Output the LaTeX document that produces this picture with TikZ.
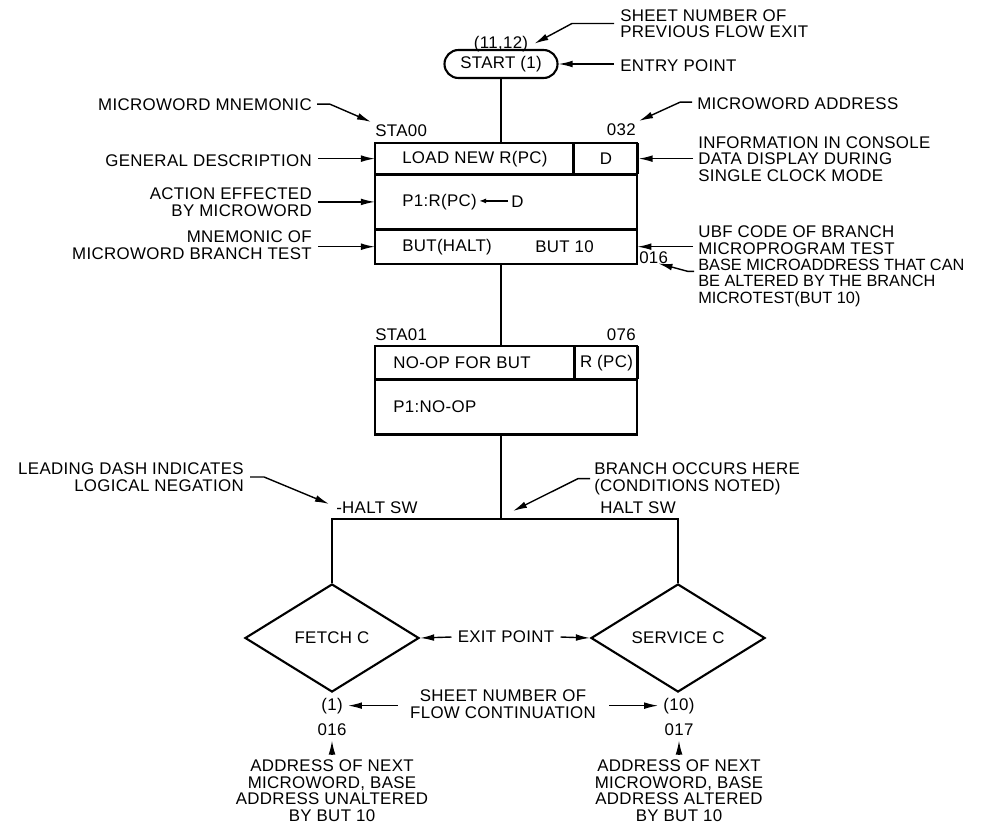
\documentclass[tikz,border=0pt]{standalone}
\usepackage{fontspec}
\setmainfont{Liberation Sans}[LetterSpace=2]
\usetikzlibrary{arrows.meta,calc,shapes.geometric,shapes.misc}

\begin{document}
\begin{tikzpicture}[x=0.025cm,y=-0.025cm]
	\tikzset{>={Latex[length=10pt,width=4.8pt]}}
	\tikzset{lbl/.style={inner sep=0pt,font=\fontsize{12}{11.7}\selectfont},
		cell/.style={draw,line width=0.9pt,inner sep=0pt,anchor=north west},
		flowline/.style={line width=1pt},
		pointer/.style={line width=1pt,->}}
	\useasboundingbox (0,0) rectangle (981,824);
	\node[lbl,draw,rounded rectangle,line width=1.5pt,minimum width=2.825cm,minimum height=0.7cm] (start) at (501,64) {START (1)};
	\node[lbl,anchor=base] (prevsheet) at (501,48) {(11,12)};
	\node[lbl,anchor=base west,align=left] (prevnote) at (620,37.5) {SHEET NUMBER OF\\PREVIOUS FLOW EXIT};
	\node[lbl,anchor=base west] (entrynote) at (620,71) {ENTRY POINT};
	\draw[pointer] ($(prevnote.west)+(-6,0)$) -- ++(-42,0) -- ($(prevsheet.east)+(6,0)$);
	\draw[pointer] ($(entrynote.west |- start.east)+(-6,0)$) -- (start.east);

	\node[lbl,anchor=base east] (mnemnote) at (312,110) {MICROWORD MNEMONIC};
	\node[lbl,anchor=base west] (mnem0) at (375,136) {STA00};
	\node[lbl,anchor=base west] (addrnote) at (697,109) {MICROWORD ADDRESS};
	\node[lbl,anchor=base east] (addr0) at (636,135) {032};
	\draw[pointer] ($(mnemnote.east)+(5,0)$) -- ++(13,0) -- ($(mnem0.north west)+(-4,-2)$);
	\draw[pointer] ($(addrnote.west)+(-5,-1)$) -- ++(-12,0) -- ($(addr0.north east)+(3,-2)$);

	\node[cell,minimum width=4.925cm,minimum height=0.75cm] (desc0) at (375,143) {};
	\node[cell,minimum width=1.6cm,minimum height=0.75cm] (disp0) at (desc0.north east) {};
	\node[cell,minimum width=6.525cm,minimum height=1.35cm] (act0) at (desc0.south west) {};
	\node[cell,minimum width=6.525cm,minimum height=0.825cm] (test0) at (act0.south west) {};
	\draw[line width=1.5pt] (desc0.north west) rectangle (test0.south east);
	\node[lbl,anchor=west] (desctxt0) at ($(desc0.west)+(27,0)$) {LOAD NEW R(PC)};
	\node[lbl] (disptxt0) at (disp0) {D};
	\node[lbl,anchor=west] (acttxt0) at ($(act0.west)+(27,0)$) {P1:R(PC)};
	\node[lbl,anchor=west] (actsrc0) at ($(acttxt0.east)+(34,0)$) {D};
	\draw[line width=0.9pt,-{Latex[length=5pt,width=3.6pt]}] ($(actsrc0.west)+(-3,-1)$) -- ($(acttxt0.east)+(2,-1)$);
	\node[lbl,anchor=west] (testtxt0) at ($(test0.west)+(27,0)$) {BUT(HALT)};
	\node[lbl,anchor=west] (ubftxt0) at ($(test0.west)+(160,0)$) {BUT 10};
	\node[lbl,anchor=base west] (base0) at (639,263) {016};

	\node[lbl,anchor=base east] (descnote) at (312,166) {GENERAL DESCRIPTION};
	\node[lbl,anchor=base east,align=right] (actnote) at (312,216) {ACTION EFFECTED\\BY MICROWORD};
	\node[lbl,anchor=base east,align=right] (testnote) at (312,259) {MNEMONIC OF\\MICROWORD BRANCH TEST};
	\draw[pointer] ($(descnote.east |- desc0.west)+(6,0)$) -- (desc0.west);
	\draw[pointer] ($(actnote.east |- act0.west)+(6,0)$) -- (act0.west);
	\draw[pointer] ($(testnote.east |- test0.west)+(6,0)$) -- (test0.west);

	\node[lbl,anchor=base west,align=left] (dispnote) at (698,181) {INFORMATION IN CONSOLE\\DATA DISPLAY DURING\\SINGLE CLOCK MODE};
	\node[lbl,anchor=base west,align=left] (ubfnote) at (698,254) {UBF CODE OF BRANCH\\MICROPROGRAM TEST};
	\node[lbl,anchor=base west,align=left,font=\fontsize{11.6}{11.7}\selectfont\addfontfeature{LetterSpace=0}] (basenote) at (698,303) {BASE MICROADDRESS THAT CAN\\BE ALTERED BY THE BRANCH\\MICROTEST(BUT 10)};
	\draw[pointer] ($(dispnote.west |- disp0.east)+(-5,0)$) -- (disp0.east);
	\draw[pointer] ($(ubfnote.west |- test0.east)+(-5,0)$) -- (test0.east);
	\draw[pointer] ($(basenote.north west)+(-4,13)$) -- ++(-6,0) -- ($(base0.south east)+(-10,0)$);

	\node[lbl,anchor=base west] (mnem1) at (375,340) {STA01};
	\node[lbl,anchor=base east] (addr1) at (636,340) {076};
	\node[cell,minimum width=4.95cm,minimum height=0.8cm] (desc1) at (375,346) {};
	\node[cell,minimum width=1.575cm,minimum height=0.8cm] (disp1) at (desc1.north east) {};
	\node[cell,minimum width=6.525cm,minimum height=1.35cm] (act1) at (desc1.south west) {};
	\draw[line width=1.5pt] (desc1.north west) rectangle (act1.south east);
	\node[lbl,anchor=west] (desctxt1) at ($(desc1.west)+(18,0)$) {NO-OP FOR BUT};
	\node[lbl] (disptxt1) at (disp1) {R (PC)};
	\node[lbl,anchor=west] (acttxt1) at ($(act1.west)+(18,0)$) {P1:NO-OP};

	\draw[flowline] (start.south) -- (start.south |- desc0.north);
	\draw[flowline] (start.south |- test0.south) -- (start.south |- desc1.north);

	\node[lbl,draw,diamond,line width=1.5pt,minimum width=4.35cm,minimum height=2.7cm] (fetch) at (332,638) {FETCH C};
	\node[lbl,draw,diamond,line width=1.5pt,minimum width=4.35cm,minimum height=2.7cm] (service) at (678,638) {SERVICE C};
	\coordinate (split) at (start.south |- 0,519);
	\draw[flowline] (start.south |- act1.south) -- (split);
	\draw[flowline] (fetch.north) -- (fetch.north |- split) -- (service.north |- split) -- (service.north);

	\node[lbl,anchor=base west] (nothalt) at (336,513) {-HALT SW};
	\node[lbl,anchor=base east] (halt) at (676,513) {HALT SW};
	\node[lbl,anchor=base east,align=right] (dashnote) at (244,491) {LEADING DASH INDICATES\\LOGICAL NEGATION};
	\node[lbl,anchor=base west,align=left] (splitnote) at (594,491) {BRANCH OCCURS HERE\\(CONDITIONS NOTED)};
	\draw[pointer] ($(dashnote.east)+(6,0)$) -- ++(14,0) -- ($(nothalt.north west)+(-7,3)$);
	\draw[pointer] ($(splitnote.west)+(-4,0)$) -- ++(-12,0) -- ($(split)+(12,-8)$);

	\node[lbl] (exitnote) at (506,637) {EXIT POINT};
	\draw[pointer] ($(exitnote.west)+(-6,0)$) -- (fetch.east);
	\draw[pointer] ($(exitnote.east)+(6,0)$) -- (service.west);

	\node[lbl,anchor=base] (sheet0) at (332,710) {(1)};
	\node[lbl,anchor=base] (next0) at (332,735) {016};
	\node[lbl,anchor=base] (sheet1) at (679,710) {(10)};
	\node[lbl,anchor=base] (next1) at (679,735) {017};
	\node[lbl,anchor=base,align=center] (contnote) at (503,718) {SHEET NUMBER OF\\FLOW CONTINUATION};
	\draw[pointer] ($(contnote.west |- sheet0.east)+(-12,0)$) -- ($(sheet0.east)+(5,0)$);
	\draw[pointer] ($(contnote.east |- sheet1.west)+(13,0)$) -- ($(sheet1.west)+(-5,0)$);

	\node[lbl,anchor=base,align=center] (nextnote0) at (332,821) {ADDRESS OF NEXT\\MICROWORD, BASE\\ADDRESS UNALTERED\\BY BUT 10};
	\node[lbl,anchor=base,align=center] (nextnote1) at (679,821) {ADDRESS OF NEXT\\MICROWORD, BASE\\ADDRESS ALTERED\\BY BUT 10};
	\draw[pointer] ($(nextnote0.north)+(0,-6)$) -- ($(next0.south)+(0,5)$);
	\draw[pointer] ($(nextnote1.north)+(0,-6)$) -- ($(next1.south)+(0,5)$);
\end{tikzpicture}
\end{document}
